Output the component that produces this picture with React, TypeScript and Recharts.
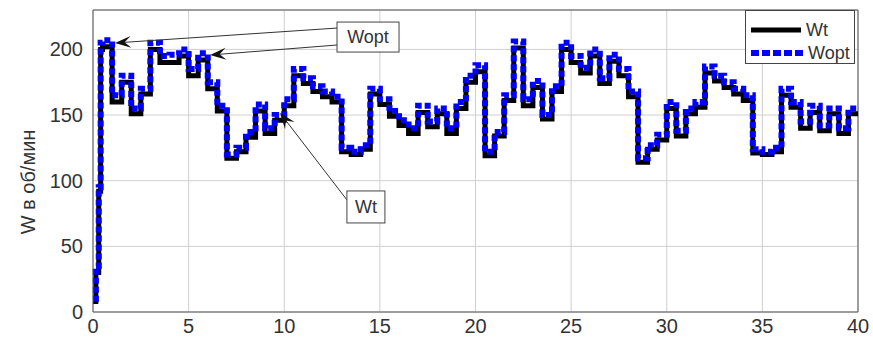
import React from 'react';
import {
  LineChart,
  Line,
  XAxis,
  YAxis,
  CartesianGrid,
  ReferenceLine,
  ReferenceDot,
} from 'recharts';

const times = [
  0, 0.15, 0.3, 0.4, 0.5, 1, 1.5, 2, 2.5, 3, 3.5, 4, 4.5, 5, 5.5, 6, 6.5, 7, 7.5, 8, 8.5, 9, 9.5,
  10, 10.5, 11, 11.5, 12, 12.5, 13, 13.5, 14, 14.5, 15, 15.5, 16, 16.5, 17, 17.5, 18, 18.5, 19, 19.5,
  20, 20.5, 21, 21.5, 22, 22.5, 23, 23.5, 24, 24.5, 25, 25.5, 26, 26.5, 27, 27.5, 28, 28.5, 29, 29.5,
  30, 30.5, 31, 31.5, 32, 32.5, 33, 33.5, 34, 34.5, 35, 35.5, 36, 36.5, 37, 37.5, 38, 38.5, 39, 39.5, 40,
];

const wopt = [
  10, 35, 95, 205, 207, 165, 180, 155, 170, 205, 195, 196, 200, 185, 197, 175, 157, 120, 125, 137, 158, 140, 150,
  162, 185, 178, 172, 168, 164, 125, 122, 127, 170, 162, 153, 146, 140, 157, 145, 155, 140, 160, 180,
  188, 122, 137, 165, 206, 162, 176, 150, 172, 205, 195, 186, 200, 178, 196, 185, 168, 117, 127, 135,
  160, 138, 155, 160, 187, 180, 175, 170, 165, 124, 122, 125, 170, 160, 145, 157, 142, 155, 140, 155, 155,
];

const wt = [
  8, 30, 92, 200, 202, 160, 175, 151, 166, 200, 190, 190, 195, 180, 192, 170, 153, 117, 122, 133, 153, 136, 146,
  157, 180, 174, 168, 164, 160, 122, 120, 124, 166, 158, 149, 142, 136, 152, 141, 151, 136, 155, 175,
  183, 119, 134, 161, 201, 157, 171, 147, 168, 200, 190, 182, 195, 174, 191, 180, 164, 114, 124, 131,
  155, 134, 151, 156, 182, 176, 171, 166, 161, 121, 120, 122, 165, 156, 140, 152, 138, 151, 136, 151, 151,
];

const xTicks = [0, 5, 10, 15, 20, 25, 30, 35, 40];
const yTicks = [0, 50, 100, 150, 200];

const data = times.map((t, i) => ({ t, wt: wt[i], wopt: wopt[i] }));

// annotation arrows: from text box to the curve (data coords)
const arrows = [
  { from: { x: 12.81, y: 216.3 }, to: { x: 1.15, y: 204.9 } },
  { from: { x: 12.81, y: 203.4 }, to: { x: 6.12, y: 195.7 } },
  { from: { x: 13.28, y: 85.3 }, to: { x: 9.78, y: 151.6 } },
];
const textBoxes = [
  { x: 14.38, y: 209.4, label: 'Wopt', w: 62, h: 30 },
  { x: 14.27, y: 80, label: 'Wt', w: 38, h: 32 },
];

const font = "Arial, 'Liberation Sans', sans-serif";
const textColor = '#333';

const Arrow = (props: any) => {
  const { x1, y1, x2, y2 } = props;
  const ang = Math.atan2(y2 - y1, x2 - x1);
  const len = 16;
  const half = 6;
  const bx = x2 - len * Math.cos(ang);
  const by = y2 - len * Math.sin(ang);
  const nx = x2 - len * 0.6 * Math.cos(ang);
  const ny = y2 - len * 0.6 * Math.sin(ang);
  const px = -Math.sin(ang) * half;
  const py = Math.cos(ang) * half;
  return (
    <g>
      <line x1={x1} y1={y1} x2={nx} y2={ny} stroke="#333" strokeWidth={1} />
      <polygon
        points={`${x2},${y2} ${bx + px},${by + py} ${nx},${ny} ${bx - px},${by - py}`}
        fill="#111"
      />
    </g>
  );
};

const makeBox = (label: string, w: number, h: number) => (props: any) => {
  const { cx, cy } = props;
  return (
    <g>
      <rect x={cx - w / 2} y={cy - h / 2} width={w} height={h} fill="#fff" stroke="#444" strokeWidth={1} />
      <text
        x={cx}
        y={cy}
        textAnchor="middle"
        dominantBaseline="central"
        fontSize={18}
        fontFamily={font}
        fill={textColor}
      >
        {label}
      </text>
    </g>
  );
};

const YLabel = () => (
  <text
    x={28}
    y={182}
    transform="rotate(-90, 28, 182)"
    textAnchor="middle"
    dominantBaseline="central"
    fontSize={20}
    fontFamily={font}
    fill={textColor}
  >
    W в об/мин
  </text>
);

const LegendBox = () => (
  <div
    style={{
      position: 'absolute',
      left: 745,
      top: 10,
      width: 110,
      height: 54,
      border: '1px solid #444',
      background: '#fff',
      boxSizing: 'border-box',
      fontFamily: font,
      fontSize: 18,
      color: textColor,
    }}
  >
    <svg width={110} height={54} style={{ position: 'absolute', left: 0, top: 0 }}>
      <line x1={5} y1={19} x2={55} y2={19} stroke="#000" strokeWidth={5} />
      <text x={60} y={19} dominantBaseline="central" fontSize={18} fontFamily={font} fill={textColor}>
        Wt
      </text>
      <line x1={5} y1={42} x2={60} y2={42} stroke="#0000ff" strokeWidth={6} strokeDasharray="8 3" />
      <text x={62} y={42} dominantBaseline="central" fontSize={18} fontFamily={font} fill={textColor}>
        Wopt
      </text>
    </svg>
  </div>
);

export default function App() {
  return (
    <div style={{ position: 'fixed', left: 0, top: 0, width: 873, height: 346, background: '#fff' }}>
      <LineChart
        width={873}
        height={346}
        data={data}
        margin={{ top: 10, right: 15, bottom: 10, left: 33 }}
      >
        <CartesianGrid stroke="#cfcfcf" />
        <XAxis
          dataKey="t"
          type="number"
          domain={[0, 40]}
          ticks={xTicks}
          height={24}
          tickSize={0}
          tickMargin={7}
          tickLine={false}
          stroke="#555"
          tick={{ fill: textColor, fontSize: 20, fontFamily: font }}
        />
        <YAxis
          type="number"
          domain={[0, 230]}
          ticks={yTicks}
          width={60}
          tickSize={0}
          tickMargin={10}
          tickLine={false}
          stroke="#555"
          tick={{ fill: textColor, fontSize: 20, fontFamily: font }}
        />
        <ReferenceLine y={230} stroke="#555" />
        <ReferenceLine x={40} stroke="#555" />
        <Line
          type="stepAfter"
          dataKey="wt"
          name="Wt"
          stroke="#000"
          strokeWidth={5}
          dot={false}
          isAnimationActive={false}
        />
        <Line
          type="stepAfter"
          dataKey="wopt"
          name="Wopt"
          stroke="#0000ff"
          strokeWidth={6}
          strokeDasharray="6 3"
          dot={false}
          isAnimationActive={false}
        />
        {arrows.map((a, i) => (
          <ReferenceLine
            key={'a' + i}
            segment={[a.from, a.to]}
            shape={Arrow}
            ifOverflow="visible"
          />
        ))}
        {textBoxes.map((b, i) => (
          <ReferenceDot
            key={'b' + i}
            x={b.x}
            y={b.y}
            r={1}
            shape={makeBox(b.label, b.w, b.h)}
            ifOverflow="visible"
          />
        ))}
        <YLabel />
      </LineChart>
      <LegendBox />
    </div>
  );
}
